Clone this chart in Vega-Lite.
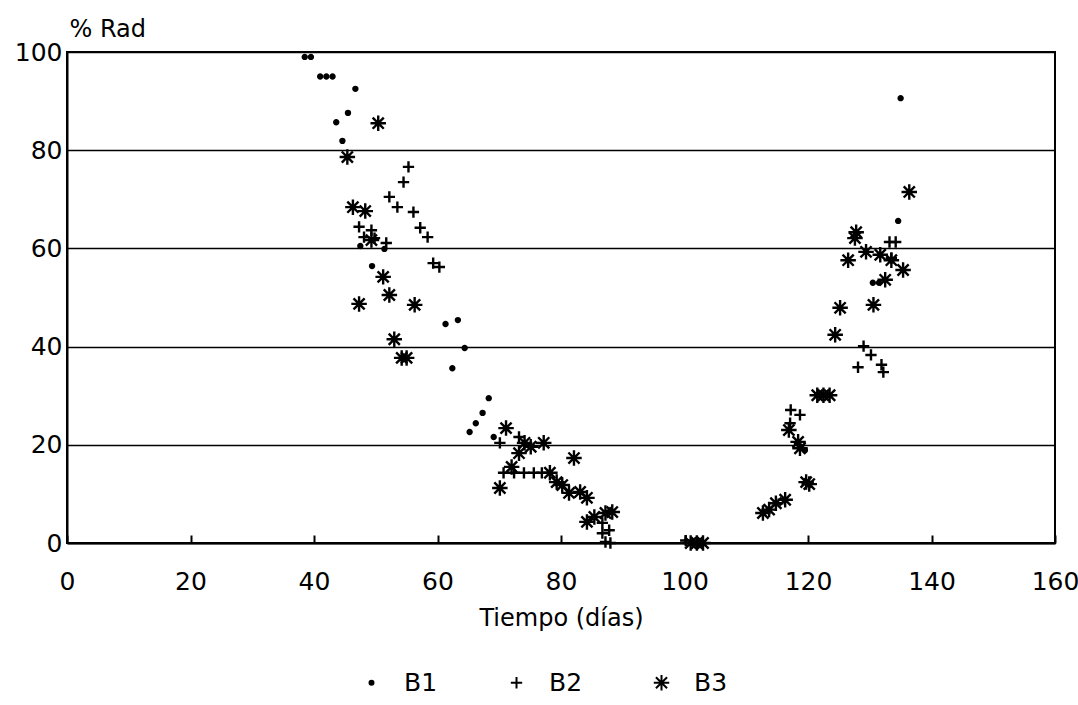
{
  "$schema": "https://vega.github.io/schema/vega-lite/v6.json",
  "width": 988,
  "height": 491,
  "autosize": "none",
  "padding": {"left": 67, "top": 52, "right": 23, "bottom": 162},
  "background": "white",
  "config": {
    "font": "DejaVu Sans",
    "view": {"stroke": "black", "strokeWidth": 2},
    "axis": {"labelColor": "black", "titleColor": "black", "labelFontSize": 25, "titleFontSize": 24, "titleFontWeight": "normal", "domainColor": "black", "tickColor": "black", "gridColor": "black"}
  },
  "data": {"values": [
    {"t": 38.5, "r": 99, "s": "B1"}, {"t": 39.5, "r": 99, "s": "B1"},
    {"t": 41, "r": 95, "s": "B1"}, {"t": 42, "r": 95, "s": "B1"}, {"t": 43, "r": 95, "s": "B1"},
    {"t": 46.7, "r": 92.5, "s": "B1"}, {"t": 45.5, "r": 87.6, "s": "B1"}, {"t": 43.6, "r": 85.7, "s": "B1"},
    {"t": 44.6, "r": 81.9, "s": "B1"}, {"t": 47.5, "r": 60.5, "s": "B1"}, {"t": 51.4, "r": 59.9, "s": "B1"},
    {"t": 49.4, "r": 56.4, "s": "B1"}, {"t": 61.3, "r": 44.6, "s": "B1"}, {"t": 63.3, "r": 45.4, "s": "B1"},
    {"t": 64.4, "r": 39.7, "s": "B1"}, {"t": 62.4, "r": 35.6, "s": "B1"}, {"t": 68.3, "r": 29.5, "s": "B1"},
    {"t": 67.3, "r": 26.5, "s": "B1"}, {"t": 66.2, "r": 24.4, "s": "B1"}, {"t": 65.2, "r": 22.6, "s": "B1"},
    {"t": 69.1, "r": 21.6, "s": "B1"}, {"t": 119.5, "r": 18.9, "s": "B1"}, {"t": 134.6, "r": 65.6, "s": "B1"},
    {"t": 135, "r": 90.6, "s": "B1"}, {"t": 130.5, "r": 53, "s": "B1"}, {"t": 131.5, "r": 53, "s": "B1"},

    {"t": 55.3, "r": 76.6, "s": "B2"}, {"t": 54.5, "r": 73.5, "s": "B2"}, {"t": 52.2, "r": 70.5, "s": "B2"},
    {"t": 53.5, "r": 68.4, "s": "B2"}, {"t": 56.1, "r": 67.4, "s": "B2"}, {"t": 57.2, "r": 64.2, "s": "B2"},
    {"t": 58.4, "r": 62.3, "s": "B2"}, {"t": 47.3, "r": 64.4, "s": "B2"}, {"t": 49.3, "r": 63.7, "s": "B2"},
    {"t": 48.1, "r": 62.3, "s": "B2"}, {"t": 49.8, "r": 62.1, "s": "B2"}, {"t": 51.7, "r": 61.1, "s": "B2"},
    {"t": 59.3, "r": 57.0, "s": "B2"}, {"t": 60.3, "r": 56.2, "s": "B2"}, {"t": 70.1, "r": 20.4, "s": "B2"},
    {"t": 73.2, "r": 21.6, "s": "B2"}, {"t": 70.7, "r": 14.3, "s": "B2"}, {"t": 72.4, "r": 14.3, "s": "B2"},
    {"t": 74, "r": 14.3, "s": "B2"}, {"t": 75.6, "r": 14.3, "s": "B2"}, {"t": 76.9, "r": 14.3, "s": "B2"},
    {"t": 86.7, "r": 4.1, "s": "B2"}, {"t": 87.8, "r": 2.6, "s": "B2"}, {"t": 86.7, "r": 2.0, "s": "B2"},
    {"t": 87.2, "r": 0.2, "s": "B2"}, {"t": 88, "r": 0, "s": "B2"}, {"t": 100.2, "r": 0.5, "s": "B2"},
    {"t": 117.2, "r": 27.1, "s": "B2"}, {"t": 118.7, "r": 26.1, "s": "B2"}, {"t": 117.1, "r": 24.4, "s": "B2"},
    {"t": 129, "r": 40.1, "s": "B2"}, {"t": 130.2, "r": 38.3, "s": "B2"}, {"t": 131.9, "r": 36.3, "s": "B2"},
    {"t": 128.1, "r": 35.8, "s": "B2"}, {"t": 132.2, "r": 34.8, "s": "B2"}, {"t": 133.2, "r": 61.3, "s": "B2"},
    {"t": 134.2, "r": 61.3, "s": "B2"}, {"t": 133.5, "r": 58, "s": "B2"},

    {"t": 50.4, "r": 85.5, "s": "B3"}, {"t": 45.4, "r": 78.6, "s": "B3"}, {"t": 46.3, "r": 68.4, "s": "B3"},
    {"t": 48.3, "r": 67.6, "s": "B3"}, {"t": 49.3, "r": 61.7, "s": "B3"}, {"t": 51.2, "r": 54.2, "s": "B3"},
    {"t": 52.2, "r": 50.5, "s": "B3"}, {"t": 47.3, "r": 48.7, "s": "B3"}, {"t": 56.3, "r": 48.5, "s": "B3"},
    {"t": 53.0, "r": 41.5, "s": "B3"}, {"t": 54.2, "r": 37.7, "s": "B3"}, {"t": 55, "r": 37.7, "s": "B3"},
    {"t": 71.1, "r": 23.4, "s": "B3"}, {"t": 74.1, "r": 20.4, "s": "B3"}, {"t": 75.1, "r": 19.6, "s": "B3"},
    {"t": 77.2, "r": 20.4, "s": "B3"}, {"t": 73.2, "r": 18.3, "s": "B3"}, {"t": 82.1, "r": 17.3, "s": "B3"},
    {"t": 72.0, "r": 15.5, "s": "B3"}, {"t": 78.2, "r": 14.3, "s": "B3"}, {"t": 79.3, "r": 12.4, "s": "B3"},
    {"t": 80.2, "r": 11.8, "s": "B3"}, {"t": 81.3, "r": 10.2, "s": "B3"}, {"t": 83.1, "r": 10.4, "s": "B3"},
    {"t": 84.2, "r": 9.2, "s": "B3"}, {"t": 70.1, "r": 11.2, "s": "B3"}, {"t": 85.4, "r": 5.3, "s": "B3"},
    {"t": 84.2, "r": 4.3, "s": "B3"}, {"t": 87.2, "r": 6.1, "s": "B3"}, {"t": 88.3, "r": 6.3, "s": "B3"},
    {"t": 101, "r": 0, "s": "B3"}, {"t": 102, "r": 0, "s": "B3"}, {"t": 103, "r": 0, "s": "B3"},
    {"t": 112.7, "r": 6.1, "s": "B3"}, {"t": 113.7, "r": 6.8, "s": "B3"}, {"t": 114.8, "r": 8.1, "s": "B3"},
    {"t": 116.3, "r": 8.8, "s": "B3"}, {"t": 119.7, "r": 12.4, "s": "B3"}, {"t": 120.2, "r": 12.0, "s": "B3"},
    {"t": 116.9, "r": 23.0, "s": "B3"}, {"t": 118.4, "r": 20.6, "s": "B3"}, {"t": 118.7, "r": 19.3, "s": "B3"},
    {"t": 121.5, "r": 30.1, "s": "B3"}, {"t": 122.5, "r": 30.1, "s": "B3"}, {"t": 123.5, "r": 30.1, "s": "B3"},
    {"t": 124.4, "r": 42.4, "s": "B3"}, {"t": 125.2, "r": 47.9, "s": "B3"}, {"t": 130.6, "r": 48.5, "s": "B3"},
    {"t": 126.5, "r": 57.6, "s": "B3"}, {"t": 127.8, "r": 63.3, "s": "B3"}, {"t": 127.6, "r": 62.1, "s": "B3"},
    {"t": 129.4, "r": 59.3, "s": "B3"}, {"t": 131.7, "r": 58.7, "s": "B3"}, {"t": 133.5, "r": 57.6, "s": "B3"},
    {"t": 135.4, "r": 55.6, "s": "B3"}, {"t": 132.5, "r": 53.6, "s": "B3"}, {"t": 136.4, "r": 71.5, "s": "B3"}
  ]},
  "mark": {"type": "point", "filled": true, "color": "black", "stroke": "black", "strokeWidth": 2.4, "opacity": 1, "clip": false},
  "encoding": {
    "x": {
      "field": "t", "type": "quantitative",
      "scale": {"domain": [0, 160], "nice": false, "zero": true},
      "axis": {"values": [0, 20, 40, 60, 80, 100, 120, 140, 160], "grid": false, "tickSize": -8, "tickWidth": 2, "domainWidth": 2, "labelPadding": 34, "title": "Tiempo (días)", "titlePadding": 12, "labelFlush": false}
    },
    "y": {
      "field": "r", "type": "quantitative",
      "scale": {"domain": [0, 100], "nice": false},
      "axis": {"values": [0, 20, 40, 60, 80, 100], "grid": true, "gridWidth": 1.5, "ticks": false, "domainWidth": 2, "labelPadding": 5, "labelFlush": false,
        "title": "% Rad", "titleAngle": 0, "titleAlign": "left", "titleBaseline": "middle", "titleX": 2, "titleY": -23}
    },
    "shape": {
      "field": "s", "type": "nominal",
      "scale": {"domain": ["B1", "B2", "B3"], "range": ["circle", "M-1,0H1M0,-1V1", "M-1,0H1M0,-1V1M-0.72,-0.72L0.72,0.72M-0.72,0.72L0.72,-0.72"]},
      "legend": {"title": null, "orient": "none", "legendX": 292, "legendY": 618, "direction": "horizontal", "columns": 3, "labelFontSize": 25, "labelColor": "black", "labelOffset": 20, "columnPadding": 66, "symbolStrokeWidth": 2, "symbolFillColor": "black", "symbolStrokeColor": "black"}
    },
    "size": {
      "field": "s", "type": "nominal",
      "scale": {"domain": ["B1", "B2", "B3"], "range": [16, 240, 220]}
    }
  }
}
